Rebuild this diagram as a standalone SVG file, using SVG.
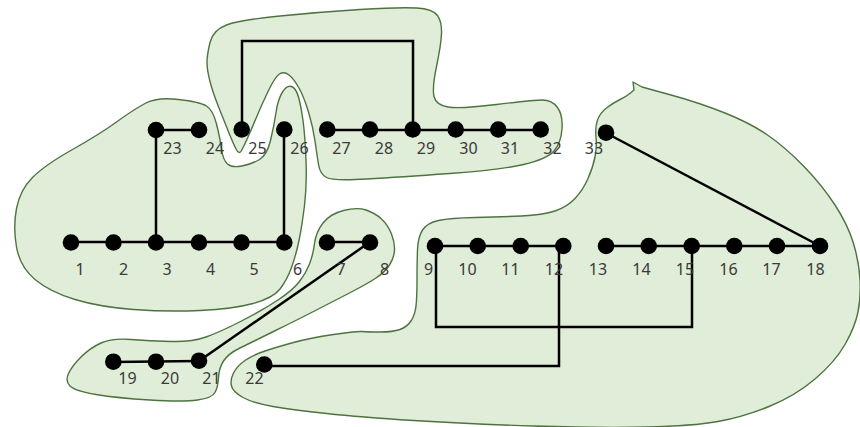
<svg xmlns="http://www.w3.org/2000/svg" width="860" height="427" viewBox="0 0 860 427">
  <style>
    .region { fill: #e0edd8; stroke: #4d7340; stroke-width: 1.4; stroke-linejoin: round; }
    .edge { fill: none; stroke: #000; stroke-width: 2.5; stroke-linejoin: miter; }
    .node circle { fill: #000; }
    .label { font-family: "Noto Sans", "Liberation Sans", Arial, sans-serif; font-size: 16px; fill: #3a3a3a; text-anchor: middle; }
  </style>

  <!-- community regions -->
  <g id="regions">
    <path id="region-left" class="region" d="M145,103.5 Q157,97 178.5,99.5 Q200,102 206.5,106 Q213,110 216.5,124 Q220,138 221.5,149 Q223,160 227.5,164 Q232,168 242,166 Q252,164 259.5,159.5 Q267,155 270.5,140.5 Q274,126 276,112.5 Q278,99 282.5,92 Q287,85 291.5,86.5 Q296,88 298.5,97 Q301,106 303,120.5 Q305,135 306,160 Q307,185 304.5,205.5 Q302,226 299,240.5 Q296,255 291.5,267.5 Q287,280 280,289 Q273,298 253,303.5 Q233,309 200,310.5 Q167,312 133.5,309.5 Q100,307 75,299.5 Q50,292 35,279.5 Q20,267 16.5,247 Q13,227 16.5,208.5 Q20,190 32.5,177.5 Q45,165 72.5,149.5 Q100,134 116.5,122 Q133,110 145,103.5 Z"/>
    <path id="region-top" class="region" d="M207,62.5 Q207,55 210,42.5 Q213,30 226.5,25 Q240,20 280,16 Q320,12 360,9.5 Q400,7 416.5,8 Q433,9 437.5,15.5 Q442,22 441.5,33.5 Q441,45 436.5,66.5 Q432,88 434,96.5 Q436,105 448,107 Q460,109 496.5,104.5 Q533,100 542.5,100 Q552,100 557.5,107.5 Q563,115 562,129 Q561,143 554,151 Q547,159 523.5,164.5 Q500,170 450,173.5 Q400,177 366.5,179 Q333,181 326.5,177.5 Q320,174 318.5,164.5 Q317,155 315,141 Q313,127 308.5,112 Q304,97 299,88 Q294,79 289,75 Q284,71 279.5,74 Q275,77 268.5,90.5 Q262,104 257,116 Q252,128 248,137 Q244,146 241.5,150.5 Q239,155 236,149 Q233,143 229,133 Q225,123 219,108 Q213,93 210,81.5 Q207,70 207,62.5 Z"/>
    <path id="region-middle" class="region" d="M343.5,210.5 Q357,207 366,210 Q375,213 381.5,219 Q388,225 391.5,234 Q395,243 394.5,250.5 Q394,258 389.5,265 Q385,272 376,278 Q367,284 348.5,293.5 Q330,303 313.5,311.5 Q297,320 273.5,331.5 Q250,343 239,348.5 Q228,354 223.5,361 Q219,368 218.5,377.5 Q218,387 215,392.5 Q212,398 197.5,400 Q183,402 150,400 Q117,398 96,394.5 Q75,391 70,386 Q65,381 68.5,373.5 Q72,366 81,357 Q90,348 101,343 Q112,338 131,339.5 Q150,341 171,341.5 Q192,342 206,337 Q220,332 241.5,321 Q263,310 278,300 Q293,290 299.5,281.5 Q306,273 309.5,264 Q313,255 314.5,243.5 Q316,232 323,223 Q330,214 343.5,210.5 Z"/>
    <path id="region-right" class="region" d="M671,95 Q700,103 725,113 Q750,123 767.5,135 Q785,147 803.5,166 Q822,185 835,205 Q848,225 853.5,243.5 Q859,262 860,279.5 Q861,297 858,312 Q855,327 845,344.5 Q835,362 815,379 Q795,396 769,406.5 Q743,417 718,421.5 Q693,426 646.5,427 Q600,428 533.5,426 Q467,424 413.5,420.5 Q360,417 326.5,413.5 Q293,410 273,406.5 Q253,403 243,397.5 Q233,392 231.5,386 Q230,380 233.5,373 Q237,366 245,360.5 Q253,355 265,351 Q277,347 293.5,342.5 Q310,338 333.5,334.5 Q357,331 362,331.5 Q367,332 380,332 Q393,332 400,329.5 Q407,327 411,321 Q415,315 416,306 Q417,297 417,280 Q417,263 417.5,250 Q418,237 422.5,230 Q427,223 438.5,220.5 Q450,218 475,217.5 Q500,217 521.5,216 Q543,215 555,211 Q567,207 575,198.5 Q583,190 588,178.5 Q593,167 595,157 Q597,147 596,137 Q595,127 597.5,120 Q600,113 606.5,108 Q613,103 620,99.5 Q627,96 630.5,93 L634,90 L633,82 L642,87 Z"/>
  </g>

  <!-- connectors -->
  <g id="connectors">
    <polyline class="edge" points="70,242 284,242"/>
    <polyline class="edge" points="327,242 370,242"/>
    <polyline class="edge" points="156,130 199,130"/>
    <polyline class="edge" points="156,130 156,242"/>
    <polyline class="edge" points="284,130 284,242"/>
    <polyline class="edge" points="242,130 242,41 413,41 413,130"/>
    <polyline class="edge" points="327,130 541,130"/>
    <polyline class="edge" points="606,133 820,246"/>
    <polyline class="edge" points="435,246 563,246"/>
    <polyline class="edge" points="606,246 820,246"/>
    <polyline class="edge" points="436,246 436,327 692,327 692,246"/>
    <polyline class="edge" points="559,246 559,366 264,366"/>
    <polyline class="edge" points="370,242 199,361"/>
    <polyline class="edge" points="113,362 199,361"/>
  </g>

  <!-- nodes -->
  <g id="n1" class="node"><circle cx="71" cy="242.5" r="8.3"/><text class="label" x="80" y="275">1</text></g>
  <g id="n2" class="node"><circle cx="113.5" cy="242.5" r="8.3"/><text class="label" x="123.5" y="275">2</text></g>
  <g id="n3" class="node"><circle cx="156" cy="242.5" r="8.3"/><text class="label" x="167" y="275">3</text></g>
  <g id="n4" class="node"><circle cx="199" cy="242.5" r="8.3"/><text class="label" x="210.5" y="275">4</text></g>
  <g id="n5" class="node"><circle cx="241.5" cy="242.5" r="8.3"/><text class="label" x="254" y="275">5</text></g>
  <g id="n6" class="node"><circle cx="284.3" cy="242.5" r="8.3"/><text class="label" x="297.5" y="275">6</text></g>
  <g id="n7" class="node"><circle cx="327" cy="242.5" r="8.3"/><text class="label" x="341" y="275">7</text></g>
  <g id="n8" class="node"><circle cx="370" cy="242.5" r="8.3"/><text class="label" x="384.5" y="275">8</text></g>
  <g id="n9" class="node"><circle cx="435" cy="246" r="8.3"/><text class="label" x="428.5" y="275">9</text></g>
  <g id="n10" class="node"><circle cx="477.7" cy="246" r="8.3"/><text class="label" x="467.5" y="275">10</text></g>
  <g id="n11" class="node"><circle cx="520.7" cy="246" r="8.3"/><text class="label" x="510.5" y="275">11</text></g>
  <g id="n12" class="node"><circle cx="563.3" cy="246" r="8.3"/><text class="label" x="554" y="275">12</text></g>
  <g id="n13" class="node"><circle cx="606" cy="246" r="8.3"/><text class="label" x="598" y="275">13</text></g>
  <g id="n14" class="node"><circle cx="648.7" cy="246" r="8.3"/><text class="label" x="641.5" y="275">14</text></g>
  <g id="n15" class="node"><circle cx="691.7" cy="246" r="8.3"/><text class="label" x="685" y="275">15</text></g>
  <g id="n16" class="node"><circle cx="734.3" cy="246" r="8.3"/><text class="label" x="728.5" y="275">16</text></g>
  <g id="n17" class="node"><circle cx="777" cy="246" r="8.3"/><text class="label" x="771.5" y="275">17</text></g>
  <g id="n18" class="node"><circle cx="820" cy="246" r="8.3"/><text class="label" x="815.5" y="275">18</text></g>
  <g id="n19" class="node"><circle cx="113.3" cy="361.7" r="8.3"/><text class="label" x="127.5" y="383.5">19</text></g>
  <g id="n20" class="node"><circle cx="156" cy="361.7" r="8.3"/><text class="label" x="170" y="383.5">20</text></g>
  <g id="n21" class="node"><circle cx="199" cy="360.7" r="8.3"/><text class="label" x="211.5" y="383.5">21</text></g>
  <g id="n22" class="node"><circle cx="264.3" cy="364.5" r="8.3"/><text class="label" x="254.5" y="383.5">22</text></g>
  <g id="n23" class="node"><circle cx="156" cy="130" r="8.3"/><text class="label" x="172.5" y="154">23</text></g>
  <g id="n24" class="node"><circle cx="199" cy="130" r="8.3"/><text class="label" x="215" y="154">24</text></g>
  <g id="n25" class="node"><circle cx="241.7" cy="129.5" r="8.3"/><text class="label" x="257.5" y="154">25</text></g>
  <g id="n26" class="node"><circle cx="284.3" cy="129.5" r="8.3"/><text class="label" x="299.5" y="154">26</text></g>
  <g id="n27" class="node"><circle cx="327.3" cy="129.5" r="8.3"/><text class="label" x="341.5" y="154">27</text></g>
  <g id="n28" class="node"><circle cx="370" cy="129.5" r="8.3"/><text class="label" x="384" y="154">28</text></g>
  <g id="n29" class="node"><circle cx="412.7" cy="129.5" r="8.3"/><text class="label" x="426" y="154">29</text></g>
  <g id="n30" class="node"><circle cx="455.7" cy="129.5" r="8.3"/><text class="label" x="468.5" y="154">30</text></g>
  <g id="n31" class="node"><circle cx="498.3" cy="129.5" r="8.3"/><text class="label" x="510" y="154">31</text></g>
  <g id="n32" class="node"><circle cx="540.7" cy="129.5" r="8.3"/><text class="label" x="552.5" y="154">32</text></g>
  <g id="n33" class="node"><circle cx="606" cy="132.7" r="8.3"/><text class="label" x="594" y="154">33</text></g>
</svg>
